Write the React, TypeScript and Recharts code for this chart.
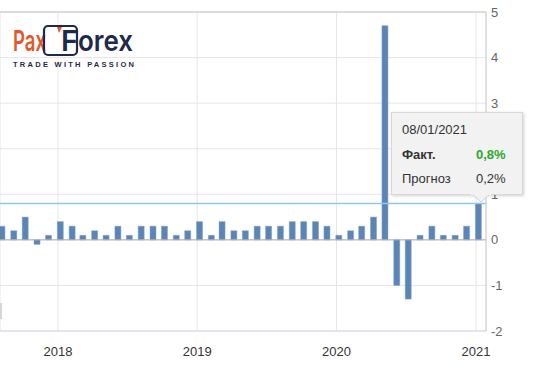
import React from "react";
import {
  BarChart,
  Bar,
  XAxis,
  YAxis,
  CartesianGrid,
  ReferenceLine,
  Tooltip,
} from "recharts";

// release dates (monthly, ~8th)
const releaseDates = [
  "2017-08-08", "2017-09-08", "2017-10-08", "2017-11-08", "2017-12-08",
  "2018-01-08", "2018-02-08", "2018-03-08", "2018-04-08", "2018-05-08", "2018-06-08",
  "2018-07-08", "2018-08-08", "2018-09-08", "2018-10-08", "2018-11-08", "2018-12-08",
  "2019-01-08", "2019-02-08", "2019-03-08", "2019-04-08", "2019-05-08", "2019-06-08",
  "2019-07-08", "2019-08-08", "2019-09-08", "2019-10-08", "2019-11-08", "2019-12-08",
  "2020-01-08", "2020-02-08", "2020-03-08", "2020-04-08", "2020-05-08", "2020-06-08",
  "2020-07-08", "2020-08-08", "2020-09-08", "2020-10-08", "2020-11-08", "2020-12-08",
  "2021-01-08",
];

const actual = [
  0.3, 0.2, 0.5, -0.1, 0.1,
  0.4, 0.3, 0.1, 0.2, 0.1, 0.3, 0.1, 0.3, 0.3, 0.3, 0.1, 0.2,
  0.4, 0.1, 0.4, 0.2, 0.2, 0.3, 0.3, 0.3, 0.4, 0.4, 0.4, 0.3,
  0.1, 0.2, 0.3, 0.5, 4.7, -1.0, -1.3, 0.1, 0.3, 0.1, 0.1, 0.3,
  0.8,
];

// forecast only known for the highlighted release
const forecast: (number | null)[] = actual.map((_, i) =>
  i === actual.length - 1 ? 0.2 : null
);

const yTicks = [-2, -1, 0, 1, 2, 3, 4, 5];
const yearTicks = ["2018-01-01", "2019-01-01", "2020-01-01", "2021-01-01"];
const domainStart = "2017-08-02";
const domainEnd = "2021-01-27";

const toTs = (d: string) => Date.parse(d + "T00:00:00Z");

const data = releaseDates.map((d, i) => ({
  t: toTs(d),
  date: d,
  actual: actual[i],
  forecast: forecast[i],
}));

const lastIndex = data.length - 1;
const FONT = '"Liberation Sans", Arial, sans-serif';
const LOGO_FONT = "Inter, 'Noto Sans', sans-serif";

const fmtNum = (v: number | null) =>
  v == null ? "" : v.toFixed(1).replace(".", ",") + "%";

const fmtDate = (d: string) => {
  const [y, m, dd] = d.split("-");
  return `${dd}/${m}/${y}`;
};

function InfoBox({ payload }: any) {
  const row = payload && payload.length ? payload[0].payload : data[lastIndex];
  return (
    <div style={{ position: "relative", fontFamily: FONT, fontSize: 13, color: "#333" }}>
      <div
        style={{
          width: 132,
          height: 83,
          boxSizing: "border-box",
          background: "#f2f2f2",
          border: "1px solid #d8d8d8",
          boxShadow: "1px 1px 3px rgba(0,0,0,0.18)",
          padding: "9px 0 0 10px",
        }}
      >
        <div style={{ height: 25, lineHeight: "16px" }}>{fmtDate(row.date)}</div>
        <div style={{ height: 24, lineHeight: "16px", display: "flex" }}>
          <span style={{ width: 74, fontWeight: "bold" }}>Факт.</span>
          <span style={{ fontWeight: "bold", color: "#2ca82c" }}>{fmtNum(row.actual)}</span>
        </div>
        <div style={{ lineHeight: "16px", display: "flex" }}>
          <span style={{ width: 74 }}>Прогноз</span>
          <span>{fmtNum(row.forecast)}</span>
        </div>
      </div>
      <svg
        width={20}
        height={10}
        style={{ position: "absolute", left: 80, top: 82 }}
      >
        <path d="M1 0 L10 8 L19 0 Z" fill="#f2f2f2" stroke="#d0d0d0" />
        <path d="M0 0 L20 0" stroke="#f2f2f2" strokeWidth={2} />
      </svg>
    </div>
  );
}

function Logo() {
  return (
    <svg
      width={150}
      height={60}
      style={{ position: "absolute", left: 0, top: 15 }}
    >
      <rect x={10} y={8} width={130} height={33} fill="#fff" />
      <text
        x={13}
        y={36}
        fontFamily={LOGO_FONT}
        fontWeight={600}
        fontSize={29}
        fill="#e4572e"
        textLength={33}
        lengthAdjust="spacingAndGlyphs"
      >
        Pax
      </text>
      <rect x={44} y={11} width={33} height={29} rx={4} fill="none" stroke="#1e2a4b" strokeWidth={2.2} />
      <path d="M57 12 L62 12 L59 18 Z" fill="#e4572e" />
      <text
        x={61}
        y={36}
        fontFamily={LOGO_FONT}
        fontWeight={600}
        fontSize={29}
        fill="#1e2a4b"
      >
        F
      </text>
      <text
        x={78}
        y={36}
        fontFamily={LOGO_FONT}
        fontWeight={600}
        fontSize={29}
        fill="#1e2a4b"
        textLength={55}
        lengthAdjust="spacingAndGlyphs"
      >
        orex
      </text>
      <text
        x={13}
        y={52}
        fontFamily={FONT}
        fontWeight="bold"
        fontSize={7.5}
        fill="#1e2a4b"
        textLength={121}
        lengthAdjust="spacing"
      >
        TRADE WITH PASSION
      </text>
    </svg>
  );
}

export default function App() {
  return (
    <div
      style={{
        position: "fixed",
        left: 0,
        top: 0,
        width: 552,
        height: 371,
        overflow: "hidden",
        background: "#fff",
      }}
    >
      <BarChart
        width={552}
        height={371}
        data={data}
        margin={{ top: 12, right: 26, bottom: 10, left: 0 }}
        barSize={6}
        style={{ fontFamily: FONT }}
      >
        <CartesianGrid stroke="#e6e6e6" vertical horizontal />
        <XAxis
          dataKey="t"
          type="number"
          scale="time"
          domain={[toTs(domainStart), toTs(domainEnd)]}
          ticks={yearTicks.map(toTs)}
          tickFormatter={(v: number) => String(new Date(v).getUTCFullYear())}
          tickLine={false}
          axisLine={{ stroke: "#ccd6eb" }}
          tick={{ fill: "#333", fontSize: 13 }}
          tickMargin={10}
          height={30}
          allowDataOverflow
        />
        <YAxis
          orientation="right"
          domain={[-2, 5]}
          ticks={yTicks}
          tickLine={false}
          axisLine={{ stroke: "#ccc" }}
          tick={{ fill: "#666", fontSize: 13, textAnchor: "start" }}
          tickSize={3}
          tickMargin={2}
          width={40}
          allowDataOverflow
        />
        <ReferenceLine y={5} stroke="#dcdcdc" strokeWidth={2} />
        <ReferenceLine y={0} stroke="#b0b0b0" />
        <ReferenceLine y={actual[lastIndex]} stroke="#8ec6ee" strokeWidth={1.5} />
        <Bar
          dataKey="actual"
          fill="#5b85b5"
          stroke="#7fa0c6"
          strokeWidth={0.5}
          isAnimationActive={false}
        />
        <Tooltip
          active
          defaultIndex={lastIndex}
          cursor={false}
          position={{ x: 391, y: 112 }}
          isAnimationActive={false}
          content={<InfoBox />}
          wrapperStyle={{ outline: "none", zIndex: 5 }}
        />
      </BarChart>
      <Logo />
      <div
        style={{
          position: "absolute",
          left: 0,
          top: 303,
          width: 2,
          height: 16,
          background: "#d6d6d6",
        }}
      />
    </div>
  );
}
